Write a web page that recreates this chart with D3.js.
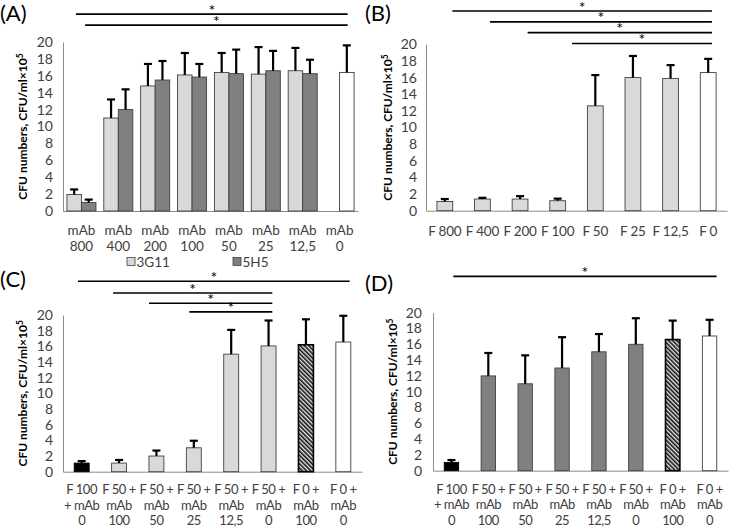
<!DOCTYPE html>
<html><head><meta charset="utf-8">
<script src="https://cdn.jsdelivr.net/npm/d3@7"></script>
<style>body{margin:0;background:#fff}svg{display:block}</style>
</head><body>
<svg id="c" width="734" height="528"></svg>
<script>
// ---------- DATA ----------
const catsA = [["mAb","800"],["mAb","400"],["mAb","200"],["mAb","100"],["mAb","50"],["mAb","25"],["mAb","12,5"],["mAb","0"]];
const seriesNamesA = ["3G11","5H5"];
const valsA3G11 = [1.95, 11.0, 14.8, 16.1, 16.4, 16.2, 16.6, null];
const errA3G11  = [0.6, 2.2, 2.6, 2.6, 2.3, 3.2, 2.7, null];
const valsA5H5  = [1.0, 12.0, 15.5, 15.85, 16.25, 16.6, 16.25, null];
const errA5H5   = [0.35, 2.4, 2.25, 1.55, 2.85, 2.35, 1.65, null];
const valsAControl = [null, null, null, null, null, null, null, 16.4];
const errAControl  = [null, null, null, null, null, null, null, 3.2];
const sigA = [[-0.15, 7.22, 23.3], [0.1, 7.22, 22.0]];

const catsB = [["F 800"],["F 400"],["F 200"],["F 100"],["F 50"],["F 25"],["F 12,5"],["F 0"]];
const valsB = [1.1, 1.4, 1.4, 1.2, 12.6, 16.0, 15.9, 16.6];
const errB  = [0.3, 0.15, 0.35, 0.25, 3.7, 2.6, 1.6, 1.65];
const sigB = [[0.2, 7.1, 24.0], [1.2, 7.1, 22.7], [2.2, 7.1, 21.4], [3.38, 7.1, 20.1]];

const catsC = [["F 100","+ mAb","0"],["F 50 +","mAb","100"],["F 50 +","mAb","50"],["F 50 +","mAb","25"],["F 50 +","mAb","12,5"],["F 50 +","mAb","0"],["F 0 +","mAb","100"],["F 0 +","mAb","0"]];
const valsC = [1.1, 1.1, 2.0, 3.05, 15.0, 16.05, 16.2, 16.55];
const errC  = [0.25, 0.4, 0.7, 0.9, 3.1, 3.25, 3.25, 3.35];
const sigC = [[-0.1, 7.17, 24.3], [0.84, 5.1, 22.8], [1.8, 5.1, 21.5], [2.88, 5.1, 20.4]];

const catsD = [["F 100","+ mAb","0"],["F 50 +","mAb","100"],["F 50 +","mAb","50"],["F 50 +","mAb","25"],["F 50 +","mAb","12,5"],["F 50 +","mAb","0"],["F 0 +","mAb","100"],["F 0 +","mAb","0"]];
const valsD = [1.05, 12.0, 11.0, 13.0, 15.05, 16.0, 16.6, 17.05];
const errD  = [0.3, 2.9, 3.6, 3.9, 2.25, 3.3, 2.4, 2.05];
const sigD = [[0.05, 7.19, 24.6]];

const yTicks = [0,2,4,6,8,10,12,14,16,18,20];

// ---------- STYLE ----------
const FONT = "Lato, 'Open Sans', sans-serif";
const TXT = "#404040";
const LIGHT = "#d9d9d9", DARK = "#808080";
const svg = d3.select("#c");

const defs = svg.append("defs");
const pat = defs.append("pattern").attr("id","hatch").attr("patternUnits","userSpaceOnUse")
  .attr("width",3).attr("height",3).attr("patternTransform","rotate(-45)");
pat.append("rect").attr("width",3).attr("height",3).attr("fill","#e8e8e8");
pat.append("rect").attr("width",1.6).attr("height",3).attr("fill","#111");

function panel(cfg){
  const g = svg.append("g");
  const n = cfg.cats.length;
  const x = d3.scaleBand().domain(d3.range(n)).range([cfg.x0, cfg.x1]);
  const y = d3.scaleLinear().domain([0,20]).range([cfg.y0, cfg.y20]);
  const xi = d3.scaleLinear().domain([-0.5, n-0.5]).range([cfg.x0, cfg.x1]);

  // y axis
  const ya = g.append("g").attr("transform",`translate(${cfg.x0},0)`)
    .call(d3.axisLeft(y).tickValues(yTicks).tickSize(0).tickSizeOuter(0).tickPadding(cfg.tickPad||10));
  ya.select(".domain").attr("stroke","#8c8c8c");
  ya.selectAll("text").attr("font-family",FONT).attr("font-size",14).attr("fill",TXT);

  // x axis
  const xa = g.append("g").attr("transform",`translate(0,${cfg.y0})`)
    .call(d3.axisBottom(x).tickSize(0).tickSizeOuter(0).tickFormat(""));
  xa.select(".domain").attr("stroke","#8c8c8c");
  cfg.cats.forEach((lines,i)=>{
    const t = g.append("text").attr("text-anchor","middle").attr("font-family",FONT)
      .attr("font-size",cfg.labSize||13.5).attr("letter-spacing",cfg.labLs||0).attr("fill",TXT);
    lines.forEach((s,k)=>{
      t.append("tspan").attr("x", x(i)+x.bandwidth()/2).attr("y", cfg.labY + k*(cfg.labGap||16)).text(s);
    });
  });

  // y title
  g.append("text").attr("transform",`translate(${cfg.titleX},${(cfg.y0+cfg.y20)/2}) rotate(-90)`)
    .attr("text-anchor","middle").attr("font-family",FONT).attr("font-weight","bold")
    .attr("font-size",12).attr("fill","#000")
    .text("CFU numbers, CFU/ml×10").append("tspan").attr("dy",-4).attr("font-size",8.5).text("5");

  // panel label
  g.append("text").attr("x",cfg.lx).attr("y",cfg.ly).attr("font-family",FONT)
    .attr("font-size",22).attr("fill","#000").text(cfg.label);

  // bars
  const bars = [];
  cfg.series.forEach(s=>{
    s.vals.forEach((v,i)=>{
      if(v==null) return;
      bars.push({x:s.pos(i, x), w:s.w(x), v, e:s.errs[i], fill:s.fill(i)});
    });
  });
  bars.forEach(b=>{
    g.append("rect").attr("x",b.x).attr("y",y(b.v)).attr("width",b.w).attr("height",y(0)-y(b.v))
      .attr("fill",b.fill).attr("stroke", b.fill==="url(#hatch)"||b.fill==="#000" ? "#000" : "#404040")
      .attr("stroke-width", b.fill==="url(#hatch)" ? 1.6 : 0.9);
  });
  bars.forEach(b=>{
    const cx = b.x + b.w/2;
    g.append("line").attr("x1",cx).attr("x2",cx).attr("y1",y(b.v)).attr("y2",y(b.v+b.e))
      .attr("stroke","#000").attr("stroke-width",2.2);
    g.append("line").attr("x1",cx-4).attr("x2",cx+4).attr("y1",y(b.v+b.e)).attr("y2",y(b.v+b.e))
      .attr("stroke","#000").attr("stroke-width",2.2);
  });

  // significance lines
  cfg.sig.forEach(([a,b,lev])=>{
    const yy = y(lev);
    g.append("line").attr("x1",xi(a)).attr("x2",xi(b)).attr("y1",yy).attr("y2",yy)
      .attr("stroke","#000").attr("stroke-width",1.6);
    g.append("text").attr("x",(xi(a)+xi(b))/2).attr("y",yy+1.5).attr("text-anchor","middle")
      .attr("font-family",FONT).attr("font-size",16).attr("fill","#000").text("*");
  });
}

// Panel A
const subA = d3.scaleBand().domain(seriesNamesA).paddingOuter(0.27);
function subPos(name){ return (i,x)=>{subA.range([0,x.bandwidth()]); return x(i)+subA(name);}; }
function subW(x){ subA.range([0,x.bandwidth()]); return subA.bandwidth(); }
panel({
  label:"(A)", lx:0, ly:21, titleX:27, tickPad:10,
  x0:63, x1:358, y0:211, y20:42, labY:235, labGap:15.5, cats:catsA, sig:sigA,
  series:[
    {vals:valsA3G11, errs:errA3G11, fill:()=>LIGHT, pos:subPos("3G11"), w:subW},
    {vals:valsA5H5, errs:errA5H5, fill:()=>DARK, pos:subPos("5H5"), w:subW},
    {vals:valsAControl, errs:errAControl, fill:()=>"#fff", pos:subPos("5H5"), w:subW}
  ]
});
// legend A
const legA = svg.append("g");
[[127,"3G11",LIGHT],[233,"5H5",DARK]].forEach(([lx,name,col])=>{
  legA.append("rect").attr("x",lx).attr("y",257.5).attr("width",8).attr("height",8)
    .attr("fill",col).attr("stroke","#404040").attr("stroke-width",0.8);
  legA.append("text").attr("x",lx+9.5).attr("y",267).attr("font-family",FONT).attr("font-size",13.5)
    .attr("fill",TXT).text(name);
});

function single(vals, errs, fillFn, pad){
  const b = d3.scaleBand().paddingInner(pad).paddingOuter(pad/2);
  return {vals, errs, fill:fillFn,
    pos:(i,x)=>{b.domain(x.domain()).range(x.range()); return b(i);},
    w:(x)=>{b.domain(x.domain()).range(x.range()); return b.bandwidth();}};
}

// Panel B
panel({
  label:"(B)", lx:365, ly:21, titleX:392, tickPad:9,
  x0:426, x1:727, y0:210.7, y20:44.3, labY:236, labLs:-0.2, cats:catsB, sig:sigB,
  series:[single(valsB, errB, i=> i===7 ? "#fff" : LIGHT, 0.58)]
});

// Panel C
panel({
  label:"(C)", lx:0, ly:287, titleX:27, tickPad:10,
  x0:63, x1:362, y0:471.7, y20:315, labY:494, labGap:15.5, labSize:13, labLs:-0.45, cats:catsC, sig:sigC,
  series:[single(valsC, errC, i=> i===0 ? "#000" : i===6 ? "url(#hatch)" : i===7 ? "#fff" : LIGHT, 0.6)]
});

// Panel D
panel({
  label:"(D)", lx:365, ly:291, titleX:397, tickPad:11,
  x0:433, x1:728, y0:470.7, y20:312.7, labY:493.5, labGap:15.5, labSize:13, labLs:-0.5, cats:catsD, sig:sigD,
  series:[single(valsD, errD, i=> i===0 ? "#000" : i===6 ? "url(#hatch)" : i===7 ? "#fff" : DARK, 0.61)]
});
</script>
</body></html>
